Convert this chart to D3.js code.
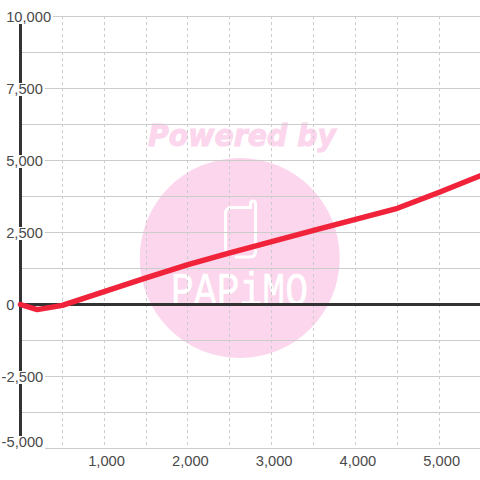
<!DOCTYPE html>
<html><head><meta charset="utf-8">
<style>html,body{margin:0;padding:0;background:#fff}svg{display:block}text{font-family:"Liberation Sans",Arial,sans-serif}</style>
<script src="https://cdn.jsdelivr.net/npm/d3@7"></script></head>
<body><div id="c"></div>
<script>
const xValues=[0,200,500,1000,1500,2000,2500,3000,3500,4000,4500,5000,5500];
const yValues=[0,-175,-30,445,925,1385,1795,2185,2570,2955,3340,3900,4480];
const yTicks=[10000,7500,5000,2500,0,-2500,-5000];
const yGrid=[8750,6250,3750,1250,-1250,-3750];
const xLabelTicks=[1000,2000,3000,4000,5000];
const xGrid=[500,1000,1500,2000,2500,3000,3500,4000,4500,5000];
const W=480,H=480;
const x=d3.scaleLinear().domain([0,5000]).range([20.4,439.3]);
const y=d3.scaleLinear().domain([-5000,10000]).range([448.5,16.5]);
const fmt=d=>d3.format(",")(d).replace("\u2212","-");
const svg=d3.select("#c").append("svg").attr("width",W).attr("height",H);
const pink="#fbd6ec";
// watermark
const wm=svg.append("g");
wm.append("circle").attr("cx",239.7).attr("cy",258).attr("r",100).attr("fill",pink);
wm.append("text").attr("x",148).attr("y",146).attr("textLength",188).attr("lengthAdjust","spacingAndGlyphs")
  .style("font-family","'DejaVu Sans'").style("font-weight","bold").style("font-style","oblique").style("font-size","31px")
  .attr("fill",pink).attr("stroke",pink).attr("stroke-width",1).text("Powered by");
wm.append("path").attr("d","M236,257H250Q255.5,257 255.5,251V204Q255.5,201 253,201Q250.5,201 250.5,204V207.5H232Q225.5,207.5 225.5,214V250")
  .attr("fill","none").attr("stroke","#fff").attr("stroke-width",3).attr("stroke-linecap","round");
wm.append("text").attr("x",171).attr("y",305).attr("textLength",137).attr("lengthAdjust","spacingAndGlyphs")
  .style("font-family","'Liberation Mono'").style("font-size","46px").attr("fill","#fff").attr("stroke","#fff").attr("stroke-width",0.5).text("PAPiMO");
// grid
const grid=svg.append("g");
grid.selectAll("line.h").data(yTicks.concat(yGrid)).join("line").attr("class","h")
  .attr("x1",20).attr("x2",W).attr("y1",d=>y(d)).attr("y2",d=>y(d)).attr("stroke","#ccc").attr("stroke-width",1);
grid.selectAll("line.v").data(xGrid).join("line").attr("class","v")
  .attr("x1",d=>Math.floor(x(d))+0.5).attr("x2",d=>Math.floor(x(d))+0.5).attr("y1",16).attr("y2",446)
  .attr("stroke","#ccc").attr("stroke-width",1).attr("stroke-dasharray","3 3");
// axes
svg.append("line").attr("x1",20.5).attr("x2",20.5).attr("y1",y(10000)).attr("y2",y(-5000)).attr("stroke","#333").attr("stroke-width",3);
svg.append("line").attr("x1",20).attr("x2",W).attr("y1",y(0)).attr("y2",y(0)).attr("stroke","#333").attr("stroke-width",3);
// y labels
const fs=14.7;
const bottomLift=7;
const labelY=d=>y(d)-(d===-5000?bottomLift:0);
const labs=svg.append("g").selectAll("g").data(yTicks).join("g");
labs.append("text").attr("x",d=>d<0?1.6:6.2).attr("y",d=>labelY(d)+5.2).attr("font-size",fs).attr("fill","#4a4a4a").text(fmt);
labs.each(function(d){
  if(d===0) return;
  const t=d3.select(this).select("text"),b=t.node().getBBox();
  const h=d===-5000?15:13;
  d3.select(this).insert("rect","text").attr("x",b.x-1).attr("y",labelY(d)-5.5).attr("width",b.width+2.8).attr("height",h).attr("fill","#fff");
});
// x labels
svg.append("g").selectAll("text").data(xLabelTicks).join("text").attr("x",d=>x(d)+2.4).attr("y",466)
  .attr("text-anchor","middle").attr("font-size",fs).attr("fill","#4a4a4a").text(fmt);
// curve
svg.append("path").datum(xValues.map((v,i)=>[v,yValues[i]]))
  .attr("d",d3.line().x(d=>x(d[0])).y(d=>y(d[1])))
  .attr("fill","none").attr("stroke","#f0233a").attr("stroke-width",5.4).attr("stroke-linejoin","round").attr("stroke-linecap","round");
</script></body></html>
